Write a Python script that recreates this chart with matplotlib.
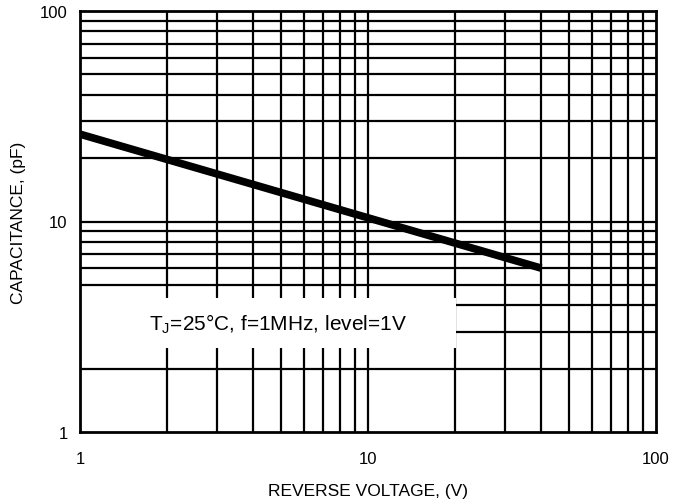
import numpy as np
import matplotlib.pyplot as plt
from matplotlib.patches import Rectangle

# Capacitance vs reverse voltage
voltage = [1, 40]
capacitance = [26, 6.0]

x_ticks = [1, 10, 100]
y_ticks = [1, 10, 100]

plt.rcParams['font.family'] = ['Liberation Sans', 'DejaVu Sans']

fig = plt.figure(figsize=(6.86, 5.02), dpi=100)
ax = fig.add_axes([80 / 686, 1 - 433 / 502, 576 / 686, 421 / 502])
ax.set_xscale('log')
ax.set_yscale('log')
ax.set_xlim(1, 100)
ax.set_ylim(1, 100)

# grid at every 1..9 step of each decade
for dec in [1, 10]:
    for k in range(2, 11):
        v = dec * k
        if v < 100:
            ax.axvline(v, color='black', lw=1.6, zorder=1)
            ax.axhline(v, color='black', lw=1.6, zorder=1)

ax.plot(voltage, capacitance, color='black', lw=5.5, solid_capstyle='butt', zorder=3)

# white label box covering the grid
ax.add_patch(Rectangle((1, 2.5), 19.2, 4.35 - 2.5, facecolor='white',
                       edgecolor='none', zorder=2))
ax.text(1.74, 3.3, r'T$_\mathregular{J}$=25°C, f=1MHz, level=1V', fontsize=15,
        va='center', ha='left', zorder=4)

for s in ax.spines.values():
    s.set_linewidth(2)
    s.set_zorder(5)

ax.set_xticks(x_ticks)
ax.set_xticklabels([str(t) for t in x_ticks])
ax.set_yticks(y_ticks)
ax.set_yticklabels([str(t) for t in y_ticks])
ax.minorticks_off()
ax.tick_params(length=0, labelsize=12)
ax.tick_params(axis='x', pad=14)
ax.tick_params(axis='y', pad=9)
ax.set_xlabel('REVERSE VOLTAGE, (V)', fontsize=12.5, labelpad=12)
ax.set_ylabel('CAPACITANCE, (pF)', fontsize=12.5, labelpad=10)

fig.savefig('out.png', dpi=100)
